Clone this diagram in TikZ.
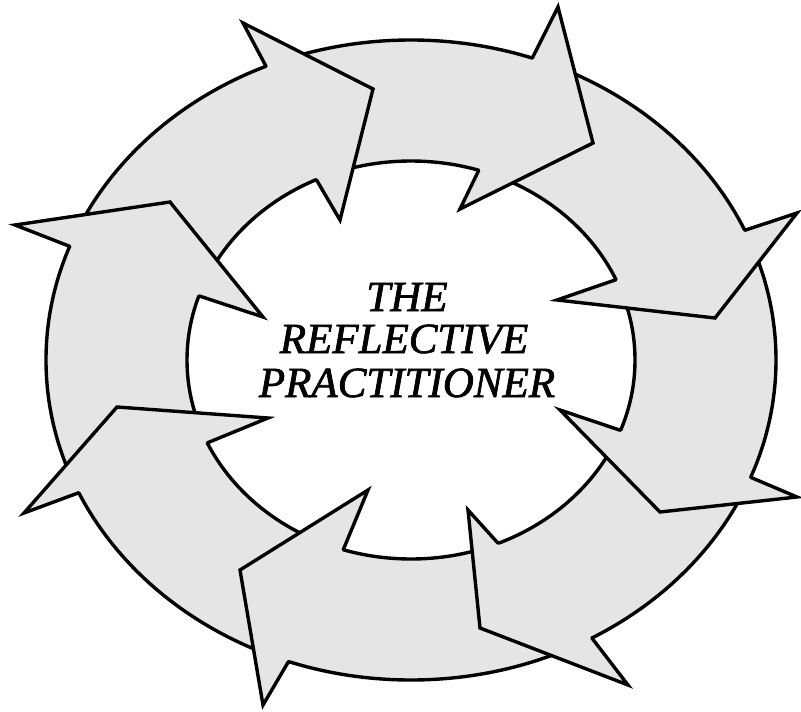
\documentclass[tikz,border=0pt]{standalone}
\usepackage{fontspec}
\setmainfont{Liberation Serif}
\newfontfamily\rpTitleFont[FakeBold=1.6]{Liberation Serif}
\usetikzlibrary{calc}
\tikzset{
  ringfill/.style={fill=black!10},
  edge/.style={draw=black, line width=3.4pt, line join=miter, line cap=round},
  lbl/.style={font=\rpTitleFont\fontsize{43}{43}\selectfont\itshape, inner sep=0pt, anchor=base}
}
% #1 name, #2 inner notch angle, #3 inner barb, #4 tip, #5 outer barb, #6 outer notch angle
\newcommand\rpHead[6]{%
  \coordinate (#1ni) at ($(O)+(#2:224pt and 199pt)$);
  \coordinate (#1bi) at #3;
  \coordinate (#1t) at #4;
  \coordinate (#1bo) at #5;
  \coordinate (#1no) at ($(O)+(#6:365pt and 320pt)$);
  \fill[ringfill] (#1ni) -- (#1bi) -- (#1t) -- (#1bo) -- (#1no) -- cycle;
  \draw[edge] (#1ni) -- (#1bi) -- (#1t) -- (#1bo) -- (#1no);
}
\begin{document}
\begin{tikzpicture}[x=1pt,y=-1pt]
\useasboundingbox (0,0) rectangle (801,712);
\fill[white] (0,0) rectangle (801,712);
\coordinate (O) at (411,360);
% ring band
\fill[ringfill, even odd rule] (O) ellipse [x radius=365pt, y radius=320pt]
                               (O) ellipse [x radius=224pt, y radius=199pt];
\draw[edge] (O) ellipse [x radius=365pt, y radius=320pt];
\draw[edge] (O) ellipse [x radius=224pt, y radius=199pt];
% arrowheads (clockwise)
\rpHead{h1}{115}{(340,220)}{(373,89)}{(243,23)}{113.4}
\rpHead{h2}{72.4}{(460,209)}{(593,143)}{(558,7)}{70.6}
\rpHead{h3}{23.8}{(557,300)}{(715,318)}{(797,213)}{23.9}
\rpHead{h4}{-20.7}{(560,410)}{(660,512)}{(797,497)}{-21.5}
\rpHead{h5}{-67.1}{(468,510)}{(480,628)}{(628,685)}{-60.3}
\rpHead{h6}{-107.6}{(368,490)}{(240,570)}{(263,705)}{-109.6}
\rpHead{h7}{-155.4}{(268,418)}{(117,407)}{(24,513)}{-155.5}
\rpHead{h8}{161.2}{(263,317)}{(170,202)}{(15,225)}{159.2}
% title
\node[lbl] (t1) at (407,311) {THE};
\node[lbl] (t2) at (404,353) {REFLECTIVE};
\node[lbl] (t3) at (407,397) {PRACTITIONER};
\end{tikzpicture}
\end{document}
